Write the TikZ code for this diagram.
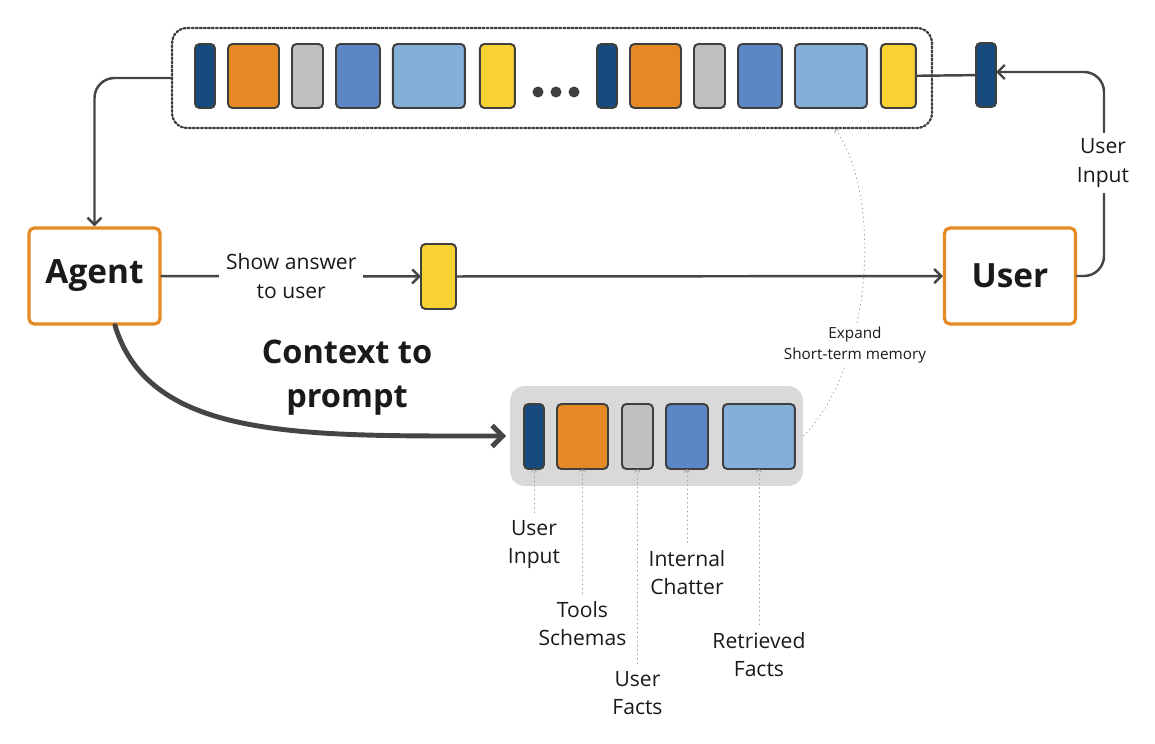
\documentclass[tikz,border=0pt]{standalone}
\usepackage{fontspec}
\setmainfont{Open Sans}
\usetikzlibrary{arrows.meta,positioning,shapes}

\definecolor{cNavy}{HTML}{174A7E}
\definecolor{cOrange}{HTML}{E58924}
\definecolor{cGrey}{HTML}{C0C0C0}
\definecolor{cBlue}{HTML}{5B87C5}
\definecolor{cSky}{HTML}{83AFD9}
\definecolor{cYellow}{HTML}{F8D132}
\definecolor{cEdge}{HTML}{3F3F3F}
\definecolor{cLine}{HTML}{454545}
\definecolor{cBack}{HTML}{D9D9D9}
\definecolor{cInk}{HTML}{1A1A1A}

\begin{document}
\begin{tikzpicture}[x=0.02cm,y=-0.02cm,>={Straight Barb[length=4pt,width=8pt]},line cap=round]
\tikzstyle{chip}=[draw=cEdge,line width=1.1pt,rounded corners=2.5pt,minimum height=1.28cm,inner sep=0pt,outer sep=0pt,anchor=west]
\tikzstyle{navy}=[chip,fill=cNavy,minimum width=0.40cm]
\tikzstyle{orng}=[chip,fill=cOrange,minimum width=1.02cm]
\tikzstyle{grey}=[chip,fill=cGrey,minimum width=0.62cm]
\tikzstyle{blue}=[chip,fill=cBlue,minimum width=0.88cm]
\tikzstyle{sky}=[chip,fill=cSky,minimum width=1.44cm]
\tikzstyle{yell}=[chip,fill=cYellow,minimum width=0.70cm]
\tikzstyle{actor}=[draw=cOrange,line width=1.8pt,rounded corners=3pt,fill=white,minimum width=2.62cm,minimum height=1.92cm,text=cInk,font=\fontsize{19}{22}\selectfont\bfseries]
\tikzstyle{lbl}=[align=center,text=cInk,inner sep=1pt,font=\fontsize{12}{16.4}\selectfont]
\tikzstyle{conn}=[draw=cLine,line width=1.4pt]
\tikzstyle{ptr}=[draw=gray!70,line width=0.5pt,dotted,->,>={Straight Barb[length=1.5pt,width=3pt]}]

\useasboundingbox (0,0) rectangle (1155,743);

% short-term memory
\node[draw=cEdge,line width=1.3pt,dash pattern=on 1.1pt off 1.2pt,rounded corners=0.3cm,minimum width=15.2cm,minimum height=2cm] (mem) at (552,78) {};
\node[navy] (t1) at (195,76) {};
\node[orng] (t2) [right=0.26cm of t1] {};
\node[grey] (t3) [right=0.26cm of t2] {};
\node[blue] (t4) [right=0.26cm of t3] {};
\node[sky]  (t5) [right=0.26cm of t4] {};
\node[yell] (t6) [right=0.30cm of t5] {};
\fill[cEdge] (538,92) circle (5.5) (556,92) circle (5.5) (574,92) circle (5.5);
\node[navy] (s1) at (597,76) {};
\node[orng] (s2) [right=0.26cm of s1] {};
\node[grey] (s3) [right=0.26cm of s2] {};
\node[blue] (s4) [right=0.26cm of s3] {};
\node[sky]  (s5) [right=0.26cm of s4] {};
\node[yell] (s6) [right=0.28cm of s5] {};
\node[navy] (sep) at (976,75) {};
\coordinate (ur) at (1104,72);
\coordinate (memtip) at (835,129);

% agent and user
\node[actor] (A) at (94.5,276) {Agent};
\node[actor] (U) at (1010,276) {User};
\node[yell,anchor=center,minimum height=1.30cm] (Y) at (438.5,276.5) {};

% prompt context
\node[fill=cBack,rounded corners=0.3cm,minimum width=5.86cm,minimum height=2cm] (ctx) at (656.5,436) {};
\node[navy,minimum height=1.30cm] (b1) at (524,436.5) {};
\node[orng,minimum height=1.30cm] (b2) [right=0.26cm of b1] {};
\node[grey,minimum height=1.30cm] (b3) [right=0.28cm of b2] {};
\node[blue,minimum height=1.30cm,minimum width=0.84cm] (b4) [right=0.26cm of b3] {};
\node[sky,minimum height=1.30cm] (b5) [right=0.30cm of b4] {};

\node[lbl] (l1) [below=0.98cm of b1] {User\\Input};
\node[lbl] (l2) [below=2.6cm of b2] {Tools\\Schemas};
\node[lbl] (l3) [below=4.0cm of b3] {User\\Facts};
\node[lbl] (l4) [below=1.58cm of b4] {Internal\\Chatter};
\node[lbl] (l5) [below=3.22cm of b5] {Retrieved\\Facts};

\node[lbl,font=\fontsize{18.5}{22}\selectfont\bfseries,text=cInk] (ctxt) at (347,378) {Context to\\[3pt]prompt};

\path
(s6) edge[conn] (sep)
(A) edge[conn,->] node[lbl,fill=white,inner sep=4pt] {Show answer\\to user} (Y)
(Y) edge[conn,->] (U)
(l1) edge[ptr,shorten <=3pt] (b1)
(l2) edge[ptr,shorten <=3pt] (b2)
(l3) edge[ptr,shorten <=3pt] (b3)
(l4) edge[ptr,shorten <=3pt] (b4)
(l5) edge[ptr,shorten <=3pt] (b5)
;
\draw[conn,->,rounded corners=0.4cm] (mem.west) -| (A.north);
\draw[conn,->,rounded corners=0.4cm] (U.east) -| (ur) -- (sep.east |- ur);
\node[lbl,fill=white,inner sep=3pt] (uin) at (1103,163) {User\\Input};
\draw[conn,line width=2.8pt,-{Straight Barb[length=6pt,width=12pt]}] ([xshift=0.41cm]A.south) .. controls (150,440) and (300,436) .. ([xshift=-2pt]ctx.west);
\draw[ptr] (ctx.east) .. controls (870,370) and (885,200) .. (memtip);
\node[lbl,fill=white,inner sep=2pt,font=\fontsize{8.7}{12}\selectfont] (exp) at (855,345) {Expand\\Short-term memory};
\end{tikzpicture}
\end{document}
